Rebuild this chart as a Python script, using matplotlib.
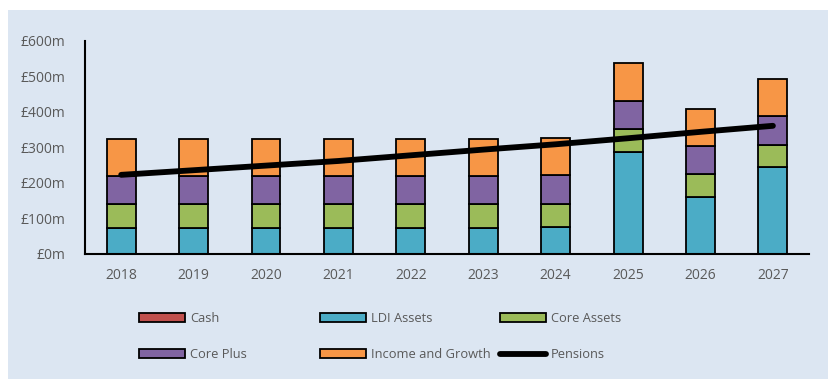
import numpy as np
import matplotlib.pyplot as plt
from matplotlib.patches import Patch, Rectangle
from matplotlib.lines import Line2D

plt.rcParams['font.family'] = ['Open Sans', 'DejaVu Sans']

years = ["2018", "2019", "2020", "2021", "2022", "2023", "2024", "2025", "2026", "2027"]

# asset values, £m
cash = [0, 0, 0, 0, 0, 0, 0, 0, 0, 0]
ldi = [72, 72, 72, 72, 72, 72, 75, 286, 159, 243]
core_assets = [67, 67, 67, 67, 67, 67, 66, 66, 64, 64]
core_plus = [81, 81, 81, 81, 81, 81, 80, 79, 80, 81]
income_growth = [103, 103, 103, 103, 103, 103, 105, 105, 105, 105]
pensions = [222, 235, 248, 261, 277, 293, 308, 325, 343, 360]

series = [
    ("Cash", cash, "#C0504D"),
    ("LDI Assets", ldi, "#4BACC6"),
    ("Core Assets", core_assets, "#9BBB59"),
    ("Core Plus", core_plus, "#8064A2"),
    ("Income and Growth", income_growth, "#F79646"),
]

text_col = "#595959"
bg = "#DCE6F2"

fig = plt.figure(figsize=(8.29, 3.79), dpi=100, facecolor="white")
fig.patches.append(Rectangle((8 / 829, 0), 1, 1 - 10 / 379, transform=fig.transFigure,
                             facecolor=bg, edgecolor="none", zorder=-10))

ax = fig.add_axes([0.1025, 0.3306, 0.8735, 0.5624])
ax.set_facecolor("none")

x = np.arange(len(years))
bottom = np.zeros(len(years))
handles = {}
for name, vals, col in series:
    vals = np.array(vals, dtype=float)
    ax.bar(x, vals, width=0.4, bottom=bottom, color=col, edgecolor="black",
           linewidth=1.3, zorder=2)
    bottom += vals
    handles[name] = Patch(facecolor=col, edgecolor="black", linewidth=1.3)

ax.plot(x, pensions, color="black", linewidth=4.2, solid_capstyle="round", zorder=3)
handles["Pensions"] = Line2D([], [], color="black", linewidth=4.2, solid_capstyle="round")

ax.set_xlim(-0.5, len(years) - 0.5)
ax.set_ylim(0, 600)
ax.set_yticks(range(0, 601, 100))
ax.set_yticklabels([f"£{v}m" for v in range(0, 601, 100)])
ax.set_xticks(x)
ax.set_xticklabels(years)
ax.tick_params(length=0, colors=text_col, labelsize=10)
ax.tick_params(axis="y", pad=14)
ax.tick_params(axis="x", pad=10)
for s in ["top", "right"]:
    ax.spines[s].set_visible(False)
for s in ["left", "bottom"]:
    ax.spines[s].set_color("black")
    ax.spines[s].set_linewidth(1.5)

# legend laid out as three equal-width columns
columns = [["Cash", "Core Plus"], ["LDI Assets", "Income and Growth"], ["Core Assets", "Pensions"]]
col_x = [139, 320, 500]
for names, cx in zip(columns, col_x):
    leg = fig.legend([handles[n] for n in names], names,
                     loc="upper left", bbox_to_anchor=(cx / 829, 1 - 312 / 379),
                     frameon=False, fontsize=9.3, handlelength=3.6, handleheight=0.65,
                     handletextpad=0.35, labelspacing=1.8, borderpad=0, borderaxespad=0,
                     labelcolor=text_col)

fig.savefig("out.png", dpi=100, facecolor=fig.get_facecolor())
